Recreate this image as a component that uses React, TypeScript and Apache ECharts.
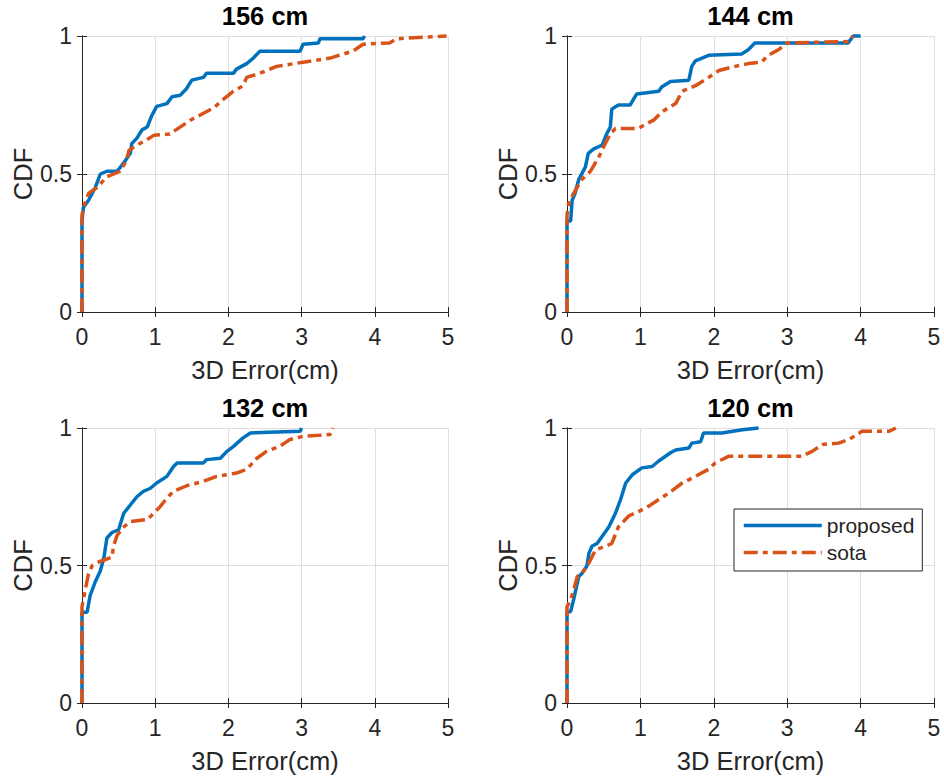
import React, { useEffect, useRef } from "react";
import * as echarts from "echarts";

const TITLES = ["156 cm", "144 cm", "132 cm", "120 cm"];
const X_NAME = "3D Error(cm)";
const Y_NAME = "CDF";
const SERIES_NAMES = ["proposed", "sota"];

const proposed156 = [[0,0],[0,0.33],[0.02,0.38],[0.09,0.405],[0.18,0.45],[0.25,0.5],[0.34,0.51],[0.48,0.51],[0.57,0.54],[0.66,0.575],[0.68,0.61],[0.75,0.63],[0.82,0.66],[0.89,0.67],[0.95,0.71],[1.02,0.745],[1.16,0.755],[1.23,0.78],[1.34,0.785],[1.43,0.81],[1.5,0.84],[1.66,0.85],[1.7,0.865],[2.07,0.865],[2.11,0.88],[2.25,0.9],[2.34,0.92],[2.43,0.945],[2.98,0.945],[3.02,0.97],[3.23,0.975],[3.25,0.99],[3.84,0.99],[3.86,1.0]];
const sota156 = [[0,0],[0,0.35],[0.02,0.38],[0.09,0.43],[0.2,0.45],[0.34,0.49],[0.52,0.51],[0.61,0.55],[0.64,0.585],[0.75,0.605],[0.86,0.62],[0.98,0.64],[1.2,0.645],[1.34,0.67],[1.48,0.695],[1.66,0.72],[1.8,0.74],[1.93,0.77],[2.07,0.8],[2.2,0.82],[2.25,0.85],[2.43,0.865],[2.66,0.89],[3.02,0.905],[3.39,0.92],[3.7,0.945],[3.84,0.97],[4.2,0.975],[4.3,0.99],[4.98,1.0]];

const proposed144 = [[0,0],[0,0.33],[0.05,0.33],[0.07,0.405],[0.11,0.43],[0.16,0.48],[0.25,0.525],[0.29,0.575],[0.36,0.59],[0.48,0.605],[0.54,0.645],[0.59,0.67],[0.61,0.735],[0.7,0.75],[0.86,0.75],[0.95,0.79],[1.25,0.8],[1.29,0.815],[1.41,0.835],[1.66,0.84],[1.7,0.89],[1.75,0.91],[1.93,0.93],[2.38,0.935],[2.47,0.95],[2.56,0.975],[3.83,0.975],[3.9,1.0],[4.0,1.0]];
const sota144 = [[0,0],[0,0.35],[0.02,0.39],[0.09,0.43],[0.2,0.48],[0.32,0.51],[0.43,0.56],[0.52,0.61],[0.59,0.645],[0.66,0.665],[0.97,0.665],[1.07,0.68],[1.18,0.695],[1.29,0.725],[1.48,0.755],[1.57,0.8],[1.75,0.82],[1.93,0.85],[2.07,0.875],[2.29,0.89],[2.47,0.9],[2.65,0.905],[2.74,0.93],[2.88,0.95],[3.0,0.975],[3.83,0.98],[3.9,1.0]];

const proposed132 = [[0,0],[0,0.33],[0.07,0.33],[0.11,0.39],[0.18,0.44],[0.25,0.48],[0.3,0.53],[0.34,0.6],[0.41,0.62],[0.5,0.63],[0.57,0.69],[0.66,0.72],[0.75,0.75],[0.84,0.77],[0.93,0.78],[1.02,0.8],[1.16,0.824],[1.25,0.86],[1.3,0.873],[1.66,0.873],[1.7,0.885],[1.89,0.89],[1.98,0.915],[2.07,0.933],[2.2,0.964],[2.3,0.982],[2.98,0.988],[3.0,1.0]];
const sota132 = [[0,0],[0,0.35],[0.05,0.42],[0.09,0.47],[0.14,0.5],[0.2,0.51],[0.3,0.52],[0.41,0.53],[0.43,0.57],[0.48,0.61],[0.57,0.64],[0.66,0.66],[0.89,0.667],[0.98,0.69],[1.07,0.715],[1.16,0.745],[1.25,0.77],[1.43,0.79],[1.66,0.806],[1.84,0.824],[2.11,0.836],[2.25,0.85],[2.39,0.89],[2.52,0.915],[2.7,0.933],[2.84,0.958],[3.02,0.97],[3.39,0.976],[3.43,1.0]];

const proposed120 = [[0,0],[0,0.33],[0.05,0.333],[0.09,0.376],[0.16,0.46],[0.2,0.47],[0.27,0.497],[0.3,0.545],[0.34,0.57],[0.41,0.58],[0.48,0.606],[0.57,0.64],[0.66,0.69],[0.73,0.74],[0.8,0.8],[0.89,0.83],[1.02,0.855],[1.16,0.86],[1.25,0.88],[1.41,0.91],[1.48,0.92],[1.66,0.927],[1.7,0.945],[1.82,0.95],[1.86,0.982],[2.11,0.982],[2.39,0.994],[2.61,1.0]];
const sota120 = [[0,0],[0,0.35],[0.05,0.376],[0.09,0.41],[0.14,0.46],[0.2,0.47],[0.3,0.51],[0.39,0.557],[0.52,0.57],[0.61,0.58],[0.7,0.64],[0.84,0.68],[0.98,0.697],[1.11,0.715],[1.25,0.74],[1.39,0.764],[1.57,0.8],[1.75,0.824],[1.93,0.85],[2.02,0.873],[2.2,0.897],[3.2,0.897],[3.34,0.915],[3.48,0.94],[3.7,0.945],[3.84,0.958],[4.02,0.988],[4.39,0.988],[4.48,1.0]];

const PROPOSED = [proposed156, proposed144, proposed132, proposed120];
const SOTA = [sota156, sota144, sota132, sota120];

const X_MIN = 0, X_MAX = 5, X_STEP = 1;
const Y_MIN = 0, Y_MAX = 1, Y_STEP = 0.5;

const FONT = "'Liberation Sans', Arial, Helvetica, sans-serif";
const AX = "#262626";
const BLUE = "#0072BD";
const ORANGE = "#D95319";

const GRIDS = [
  { left: 82, top: 36, width: 366, height: 276 },
  { left: 567, top: 36, width: 367, height: 276 },
  { left: 82, top: 428, width: 366, height: 275 },
  { left: 567, top: 428, width: 367, height: 275 },
];

export default function App() {
  const ref = useRef<HTMLDivElement>(null);
  useEffect(() => {
    if (!ref.current) return;
    const chart = echarts.init(ref.current, null, { renderer: "svg" });
    const tick = { show: true, inside: true, length: 5, lineStyle: { color: AX, width: 1 } };
    const axisLine = { show: true, lineStyle: { color: AX, width: 1 } };
    const xAxes: any[] = [];
    const yAxes: any[] = [];
    GRIDS.forEach((_, i) => {
      xAxes.push({
        type: "value", gridIndex: i, min: X_MIN, max: X_MAX, interval: X_STEP,
        name: X_NAME, nameLocation: "middle", nameGap: 45,
        nameTextStyle: { fontSize: 25.5, color: AX, fontFamily: FONT },
        axisLine, axisTick: tick,
        axisLabel: { fontSize: 23, color: AX, fontFamily: FONT, margin: 13 },
        splitLine: { show: true, lineStyle: { color: "#dfdfdf", width: 1 } },
      });
      yAxes.push({
        type: "value", gridIndex: i, min: Y_MIN, max: Y_MAX, interval: Y_STEP,
        name: Y_NAME, nameLocation: "middle", nameGap: 45,
        nameTextStyle: { fontSize: 25.5, color: AX, fontFamily: FONT },
        axisLine, axisTick: tick,
        axisLabel: { fontSize: 23, color: AX, fontFamily: FONT, margin: 10 },
        splitLine: { show: true, lineStyle: { color: "#dfdfdf", width: 1 } },
      });
    });
    GRIDS.forEach((_, i) => {
      xAxes.push({
        type: "value", gridIndex: i, position: "top", min: X_MIN, max: X_MAX, interval: X_STEP,
        axisLine, axisTick: tick, axisLabel: { show: false }, splitLine: { show: false },
      });
      yAxes.push({
        type: "value", gridIndex: i, position: "right", min: Y_MIN, max: Y_MAX, interval: Y_STEP,
        axisLine, axisTick: tick, axisLabel: { show: false }, splitLine: { show: false },
      });
    });
    const series: any[] = [];
    GRIDS.forEach((_, i) => {
      series.push({
        type: "line", name: SERIES_NAMES[0], xAxisIndex: i, yAxisIndex: i,
        data: PROPOSED[i], showSymbol: false, symbol: "none", clip: false,
        lineStyle: { color: BLUE, width: 3.5 }, itemStyle: { color: BLUE },
      });
      series.push({
        type: "line", name: SERIES_NAMES[1], xAxisIndex: i, yAxisIndex: i,
        data: SOTA[i], showSymbol: false, symbol: "none", clip: false,
        lineStyle: { color: ORANGE, width: 3.5, type: [14, 5, 5, 5] }, itemStyle: { color: ORANGE },
      });
    });
    const titles = GRIDS.map((g, i) => ({
      type: "text",
      x: g.left + g.width / 2,
      y: g.top - 33,
      style: {
        text: TITLES[i], fill: "#000", fontSize: 25.5, fontWeight: "bold", fontFamily: FONT,
        textAlign: "center", textVerticalAlign: "top", align: "center", verticalAlign: "top",
      },
    }));
    chart.setOption({
      animation: false,
      backgroundColor: "#fff",
      grid: GRIDS.map((g) => ({ ...g, containLabel: false })),
      xAxis: xAxes,
      yAxis: yAxes,
      series,
      graphic: titles,
      legend: {
        data: SERIES_NAMES,
        orient: "vertical",
        left: 734, top: 509,
        padding: [6, 8, 8, 8],
        itemGap: 6,
        itemWidth: 78, itemHeight: 14,
        backgroundColor: "#fff",
        borderColor: AX, borderWidth: 1, borderRadius: 0,
        itemStyle: { opacity: 0, borderWidth: 0 },
        lineStyle: { width: 3.5 },
        textStyle: { fontSize: 21, color: AX, fontFamily: FONT },
        selectedMode: false,
      },
    });
    return () => chart.dispose();
  }, []);
  return (
    <div
      ref={ref}
      style={{ position: "fixed", left: 0, top: 0, width: 944, height: 779, background: "#fff" }}
    />
  );
}
